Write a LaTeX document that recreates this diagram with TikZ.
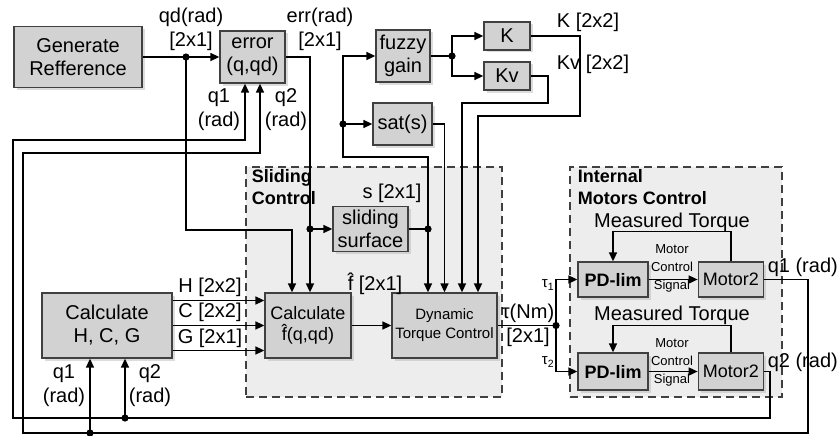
\documentclass[tikz,border=0pt]{standalone}
\usepackage{fontspec}
\setmainfont{Liberation Sans}
\usetikzlibrary{positioning,shadows,arrows.meta}

\begin{document}
\begin{tikzpicture}[x=1pt, y=-1pt, >={Triangle[length=9pt,width=8pt]}, line width=1.6pt, auto]
        \tikzstyle{blk}=[draw=black!75, line width=1.3pt, fill=gray!35, inner sep=1pt, align=center, font=\fontsize{20}{23}\selectfont, drop shadow={shadow xshift=2.5pt, shadow yshift=-2.5pt, fill=gray!55}]
        \tikzstyle{zone}=[draw=black!75, dash pattern=on 8pt off 5pt, line width=1.4pt, fill=gray!14, inner sep=0pt]
        \tikzstyle{lbl}=[inner sep=0pt, align=center, font=\fontsize{20}{24}\selectfont]
        \tikzstyle{tiny}=[inner sep=0pt, align=center, font=\fontsize{13}{18}\selectfont]
        \tikzstyle{ttl}=[inner sep=0pt, align=left, font=\bfseries\fontsize{18}{22}\selectfont]
        \tikzstyle{dot}=[fill=black]

        \useasboundingbox (0,0) rectangle (838,436);

        \node[zone, minimum width=256pt, minimum height=230pt] (slide) at (374,282) {};
        \node[zone, minimum width=212pt, minimum height=230pt] (motors) at (676,282) {};
        \node[ttl, anchor=north west] (tslide) at (251,169) {Sliding\\Control};
        \node[ttl, anchor=north west] (tmotors) at (577,169) {Internal\\Motors Control};

        \node[blk, minimum width=128pt, minimum height=61pt] (genref) at (78,57) {Generate\\Refference};
        \node[blk, minimum width=65pt, minimum height=52pt] (err) at (252.5,57) {error\\(q,qd)};
        \node[blk, minimum width=54pt, minimum height=52pt] (fuzzy) at (403,56) {fuzzy\\gain};
        \node[blk, minimum width=46pt, minimum height=28pt] (kk) at (507,36) {K};
        \node[blk, minimum width=46pt, minimum height=28pt] (kv) at (507,76) {Kv};
        \node[blk, minimum width=59pt, minimum height=42pt] (sat) at (402.5,124) {sat(s)};
        \node[blk, minimum width=75pt, minimum height=45pt] (surf) at (370.5,229) {sliding\\surface};
        \node[blk, minimum width=130pt, minimum height=65pt] (hcg) at (107,325.5) {Calculate\\H, C, G};
        \node[blk, minimum width=86pt, minimum height=65pt, font=\fontsize{18}{21}\selectfont] (calcf) at (308,325.5) {Calculate\\f̂(q,qd)};
        \node[blk, minimum width=105pt, minimum height=65pt, font=\fontsize{15}{19}\selectfont] (dyn) at (444.5,325.5) {Dynamic\\Torque Control};
        \node[blk, minimum width=70pt, minimum height=35pt, font=\bfseries\fontsize{18}{21}\selectfont] (pd1) at (613,279.5) {PD-lim};
        \node[blk, minimum width=65pt, minimum height=35pt, font=\fontsize{18}{21}\selectfont, right=49pt of pd1] (m1) {Motor2};
        \node[blk, minimum width=70pt, minimum height=37pt, font=\bfseries\fontsize{18}{21}\selectfont] (pd2) at (613,371.5) {PD-lim};
        \node[blk, minimum width=65pt, minimum height=37pt, font=\fontsize{18}{21}\selectfont, right=49pt of pd2] (m2) {Motor2};

        \coordinate (j1) at (186,57);
        \coordinate (j2) at (310,229);
        \coordinate (j3) at (428,229);
        \coordinate (j4) at (343,124);
        \coordinate (j5) at (452,56);
        \coordinate (j6) at (556,325.5);
        \coordinate (j7) at (90,433);
        \coordinate (j8) at (125,418);
        \coordinate (sbend) at (343,157);
        \coordinate (kbend) at (580,116);
        \coordinate (kvbend) at (548,103);
        \coordinate (r1) at (808,433);
        \coordinate (l1) at (23,153);
        \coordinate (r2) at (770,418);
        \coordinate (l2) at (13,140);

        \draw[->] (genref) -- (err);
        \draw[->] (j1) -- ++(0,173) -| ([xshift=-16pt]calcf.north);
        \draw[->] (err.east) -| ([xshift=2pt]calcf.north);
        \draw[->] (j2) -- (surf);
        \draw[->] (surf) -| ([xshift=-16.5pt]dyn.north);
        \draw (j3) |- (sbend) -- (j4);
        \draw[->] (j4) -- (sat);
        \draw[->] (j4) |- (fuzzy);
        \draw (fuzzy) -- (j5);
        \draw[->] (j5) |- (kk);
        \draw[->] (j5) |- (kv);
        \draw[->] (kk) -| (kbend) -| ([xshift=33.5pt]dyn.north);
        \draw[->] (kv) -| (kvbend) -| ([xshift=17.5pt]dyn.north);
        \draw[->] (sat) -| (dyn.north);
        \draw[->] ([yshift=25pt]hcg.east) -- ([yshift=25pt]calcf.west);
        \draw[->] (hcg) -- (calcf);
        \draw[->] ([yshift=-25pt]hcg.east) -- ([yshift=-25pt]calcf.west);
        \draw[->] (calcf) -- (dyn);
        \draw (dyn) -- (j6);
        \draw[->] (j6) |- (pd1);
        \draw[->] (j6) |- (pd2);
        \draw[->] (pd1) -- (m1);
        \draw[->] (pd2) -- (m2);
        \draw[->] (m1.north) -- ++(0,-30) -| (pd1.north);
        \draw[->] (m2.north) -- ++(0,-27) -| (pd2.north);
        \draw[->] (m1) -| (r1) -| (l1) -| ([xshift=7.5pt]err.south);
        \draw[->] (m2) -| (r2) -| (l2) -| ([xshift=-7.5pt]err.south);
        \draw[->] (j7) -- (j7 |- hcg.south);
        \draw[->] (j8) -- (j8 |- hcg.south);

        \foreach \j in {j1,j2,j3,j4,j5,j6,j7,j8}
            \fill[dot] (\j) circle (3.6pt);

        \node[lbl] (lqd) at (191,29) {qd(rad)\\{[2x1]}};
        \node[lbl] (lerr) at (320,29) {err(rad)\\{[2x1]}};
        \node[lbl] (lq1) at (219,110) {q1\\(rad)};
        \node[lbl] (lq2) at (286,110) {q2\\(rad)};
        \node[lbl] (lk) at (588,22) {K [2x2]};
        \node[lbl] (lkv) at (593,64) {Kv [2x2]};
        \node[lbl] (ls) at (392,193) {s [2x1]};
        \node[lbl] (lh) at (210,287) {H [2x2]};
        \node[lbl] (lc) at (210,312) {C [2x2]};
        \node[lbl] (lg) at (210,338) {G [2x1]};
        \node[lbl] (lf) at (375,284) {f̂ [2x1]};
        \node[lbl] (lq1b) at (64,386) {q1\\(rad)};
        \node[lbl] (lq2b) at (150,386) {q2\\(rad)};
        \node[lbl] (ltau) at (528,325) {τ(Nm)\\{[2x1]}};
        \node[lbl, font=\fontsize{15}{18}\selectfont] (lt1) at (548,285) {τ\textsubscript{1}};
        \node[lbl, font=\fontsize{15}{18}\selectfont] (lt2) at (548,362) {τ\textsubscript{2}};
        \node[lbl] (lmt1) at (672,222) {Measured Torque};
        \node[lbl] (lmt2) at (672,315) {Measured Torque};
        \node[tiny] (lsig1) at (672,268) {Motor\\Control\\Signal};
        \node[tiny] (lsig2) at (672,362) {Motor\\Control\\Signal};
        \node[lbl, anchor=west] (lq1r) at (767,267) {q1 (rad)};
        \node[lbl, anchor=west] (lq2r) at (767,362) {q2 (rad)};
    \end{tikzpicture}
\end{document}
